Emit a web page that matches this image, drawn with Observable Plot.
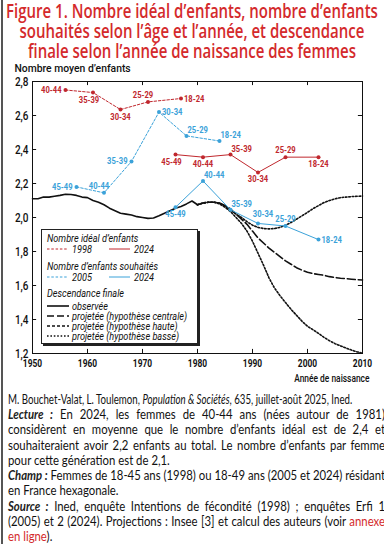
<!DOCTYPE html>
<html><head><meta charset="utf-8">
<script src="https://cdn.jsdelivr.net/npm/d3@7"></script>
<script src="https://cdn.jsdelivr.net/npm/@observablehq/plot@0.6"></script>
<style>
html,body{margin:0;padding:0;background:#fff;}
body{width:384px;height:544px;overflow:hidden;position:relative;}
#edge{position:absolute;left:1px;top:0;width:1.5px;height:544px;background:#555;}
#title{position:absolute;left:0;top:1px;text-align:center;color:#d42a2c;font-family:"Open Sans",sans-serif;font-weight:600;font-size:19.5px;line-height:20px;transform-origin:0 0;}
#title div{white-space:nowrap;}
#title span{display:inline-block;}
#chart{position:absolute;left:0;top:62px;}
#src{position:absolute;left:8px;top:392px;white-space:nowrap;font-family:Lato,"Noto Sans",sans-serif;font-size:12.5px;line-height:16px;color:#111;transform-origin:0 0;}
#caption{position:absolute;left:8px;top:407px;font-family:Lato,"Noto Sans",sans-serif;font-size:12.8px;color:#111;transform-origin:0 0;}
#caption .ln{white-space:nowrap;line-height:15.3px;}
#caption .j{text-align:justify;text-align-last:justify;}
#caption b{font-style:italic;font-weight:700;color:#222;}
#caption .red{color:#d42a2c;}
</style></head>
<body>
<div id="edge"></div>
<div id="title">
<div><span>Figure 1. Nombre idéal d’enfants, nombre d’enfants</span></div>
<div><span>souhaités selon l’âge et l’année, et descendance</span></div>
<div><span>finale selon l’année de naissance des femmes</span></div>
</div>
<div id="chart"></div>
<div id="src">M. Bouchet-Valat, L. Toulemon, <i>Population &amp; Sociétés</i>, 635, juillet-août 2025, Ined.</div>
<div id="caption">
<div class="ln j"><span><b>Lecture :</b> En 2024, les femmes de 40-44 ans (nées autour de 1981)</span></div>
<div class="ln j"><span>considèrent en moyenne que le nombre d’enfants idéal est de 2,4 et</span></div>
<div class="ln j"><span>souhaiteraient avoir 2,2 enfants au total. Le nombre d’enfants par femme</span></div>
<div class="ln"><span>pour cette génération est de 2,1.</span></div>
<div class="ln j"><span><b>Champ :</b> Femmes de 18-45 ans (1998) ou 18-49 ans (2005 et 2024) résidant</span></div>
<div class="ln"><span>en France hexagonale.</span></div>
<div class="ln j"><span><b>Source :</b> Ined, enquête Intentions de fécondité (1998) ; enquêtes Erfi 1</span></div>
<div class="ln j"><span>(2005) et 2 (2024). Projections : Insee [3] et calcul des auteurs (voir <span class="red">annexe</span></span></div>
<div class="ln"><span><span class="red">en ligne</span>).</span></div>
</div>
<script>
// ---------- DATA ----------
const xTicks = [1950, 1960, 1970, 1980, 1990, 2000, 2010];
const yTicks = [1.2, 1.4, 1.6, 1.8, 2.0, 2.2, 2.4, 2.6, 2.8];

const ideal1998Years  = [1956, 1961, 1966, 1971, 1977];
const ideal1998Values = [2.75, 2.735, 2.635, 2.68, 2.70];
const ideal1998Labels = ["40-44", "35-39", "30-34", "25-29", "18-24"];

const wanted2005Years  = [1958, 1963, 1968, 1973, 1978, 1984];
const wanted2005Values = [2.18, 2.145, 2.33, 2.62, 2.48, 2.45];
const wanted2005Labels = ["45-49", "40-44", "35-39", "30-34", "25-29", "18-24"];

const ideal2024Years  = [1976, 1981, 1986, 1991, 1996, 2002];
const ideal2024Values = [2.37, 2.355, 2.37, 2.265, 2.355, 2.355];
const ideal2024Labels = ["45-49", "40-44", "35-39", "30-34", "25-29", "18-24"];

const wanted2024Years  = [1976, 1981, 1986, 1991, 1996, 2002];
const wanted2024Values = [2.06, 2.215, 2.045, 1.965, 1.95, 1.87];
const wanted2024Labels = ["45-49", "40-44", "35-39", "30-34", "25-29", "18-24"];

const observedYears  = [1950,1951,1952,1953,1954,1955,1956,1957,1958,1959,1960,1961,1962,1963,1964,1965,1966,1967,1968,1969,1970,1971,1972,1973,1974,1975,1976,1977,1978,1979,1980];
const observedValues = [2.11,2.11,2.12,2.12,2.125,2.13,2.137,2.135,2.13,2.12,2.117,2.10,2.09,2.075,2.055,2.04,2.025,2.02,2.015,2.005,2.0,1.995,1.997,2.01,2.025,2.04,2.055,2.065,2.08,2.097,2.075];

const projYears = [1980,1981,1982,1983,1984,1985,1986,1987,1988,1989,1990,1991,1992,1993,1994,1995,1996,1997,1998,1999,2000,2001,2002,2003,2004,2005,2006,2007,2008,2009,2010];
const projCentral = [2.075,2.085,2.09,2.09,2.085,2.07,2.05,2.02,1.99,1.96,1.92,1.88,1.85,1.82,1.795,1.77,1.745,1.725,1.705,1.69,1.678,1.67,1.665,1.66,1.652,1.647,1.643,1.64,1.637,1.634,1.632];
const projHigh    = [2.075,2.085,2.09,2.09,2.085,2.065,2.045,2.02,2.0,1.975,1.955,1.942,1.935,1.933,1.935,1.942,1.955,1.97,1.99,2.01,2.03,2.052,2.07,2.088,2.10,2.11,2.117,2.12,2.123,2.125,2.126];
const projLow     = [2.075,2.085,2.09,2.09,2.08,2.06,2.035,2.0,1.965,1.92,1.86,1.79,1.72,1.645,1.585,1.54,1.50,1.46,1.425,1.39,1.36,1.34,1.318,1.295,1.275,1.258,1.245,1.232,1.22,1.21,1.202];

const yAxisTitle = "Nombre moyen d’enfants";
const xAxisTitle = "Année de naissance";
const legendHeads = ["Nombre idéal d’enfants", "Nombre d’enfants souhaités", "Descendance finale"];
const legendYears = ["1998", "2024", "2005", "2024"];
const legendProj  = ["observée", "projetée (hypothèse centrale)", "projetée (hypothèse haute)", "projetée (hypothèse basse)"];

// ---------- STYLE / PLACEMENT ----------
const RED = "#c0272d", BLUE = "#3ba2d9";
const CF = 'Roboto,"Liberation Sans",sans-serif';
const ideal1998Place  = ["l", "bl", "b", "al", "r"];
const wanted2005Place = ["l", "al", "l", "r", "ar", "ar"];
const ideal2024Place  = ["bl", "b", "ar", "b", "a", "b"];
const wanted2024Place = ["b", "ar", "ar", "al2", "a", "r"];
const placeOpts = {
  l:   {textAnchor: "end",    dx: -4, dy: 0},
  r:   {textAnchor: "start",  dx: 3,  dy: 0},
  a:   {textAnchor: "middle", dx: 0,  dy: -7},
  b:   {textAnchor: "middle", dx: 0,  dy: 7},
  al:  {textAnchor: "middle", dx: -5, dy: -7},
  al2: {textAnchor: "middle", dx: 5,  dy: -9},
  ar:  {textAnchor: "start",  dx: 1,  dy: -6},
  bl:  {textAnchor: "middle", dx: -4, dy: 7}
};

function table(years, values, labels, places) {
  return years.map((y, i) => ({year: y, value: values[i], label: labels ? labels[i] : null, place: places ? places[i] : null}));
}
const ideal1998  = table(ideal1998Years, ideal1998Values, ideal1998Labels, ideal1998Place);
const wanted2005 = table(wanted2005Years, wanted2005Values, wanted2005Labels, wanted2005Place);
const ideal2024  = table(ideal2024Years, ideal2024Values, ideal2024Labels, ideal2024Place);
const wanted2024 = table(wanted2024Years, wanted2024Values, wanted2024Labels, wanted2024Place);
const observed   = table(observedYears, observedValues);
const central    = table(projYears, projCentral);
const high       = table(projYears, projHigh);
const low        = table(projYears, projLow);

function labelMarks(data, color) {
  return Object.keys(placeOpts).map(k => Plot.text(data.filter(d => d.place === k), {
    x: "year", y: "value", text: "label", fill: color, fontSize: 9.5, fontWeight: 700, ...placeOpts[k]
  }));
}

const tickLenY = 0.024, tickLenX = 0.75;

const plot = Plot.plot({
  width: 384, height: 326,
  marginTop: 19, marginBottom: 35, marginLeft: 32, marginRight: 22,
  style: {fontFamily: CF, fontSize: "12px", color: "#111", background: "transparent"},
  x: {domain: [1950, 2010]},
  y: {domain: [1.2, 2.8]},
  marks: [
    Plot.axisX(xTicks, {tickSize: 0, tickPadding: 6, tickFormat: d => String(d), label: null, fontWeight: 700, fontSize: 10.5}),
    Plot.axisY(yTicks, {tickSize: 0, tickPadding: 4, tickFormat: d => d.toFixed(1).replace(".", ","), label: null, fontWeight: 500, fontSize: 12.5}),
    Plot.ruleX(xTicks, {x: d => d, y1: 1.2, y2: 1.2 + tickLenY, stroke: "#111"}),
    Plot.ruleX(xTicks, {x: d => d, y1: 2.8, y2: 2.8 - tickLenY, stroke: "#111"}),
    Plot.ruleY(yTicks, {y: d => d, x1: 1950, x2: 1950 + tickLenX, stroke: "#111"}),
    Plot.ruleY(yTicks, {y: d => d, x1: 2010, x2: 2010 - tickLenX, stroke: "#111"}),
    Plot.frame({stroke: "#111", strokeWidth: 1}),
    Plot.line(central, {x: "year", y: "value", stroke: "#111", strokeWidth: 1.6, strokeDasharray: "8,3"}),
    Plot.line(high, {x: "year", y: "value", stroke: "#111", strokeWidth: 1.6, strokeDasharray: "1.6,1.8"}),
    Plot.line(low, {x: "year", y: "value", stroke: "#111", strokeWidth: 1.6, strokeDasharray: "1.6,1.8"}),
    Plot.line(observed, {x: "year", y: "value", stroke: "#111", strokeWidth: 1.6}),
    Plot.line(ideal1998, {x: "year", y: "value", stroke: RED, strokeWidth: 1, strokeDasharray: "2.5,1.8"}),
    Plot.line(ideal2024, {x: "year", y: "value", stroke: RED, strokeWidth: 1}),
    Plot.line(wanted2005, {x: "year", y: "value", stroke: BLUE, strokeWidth: 1, strokeDasharray: "2.5,1.8"}),
    Plot.line(wanted2024, {x: "year", y: "value", stroke: BLUE, strokeWidth: 1}),
    Plot.dot(ideal1998, {x: "year", y: "value", fill: RED, r: 2}),
    Plot.dot(ideal2024, {x: "year", y: "value", fill: RED, r: 2}),
    Plot.dot(wanted2005, {x: "year", y: "value", fill: BLUE, r: 2}),
    Plot.dot(wanted2024, {x: "year", y: "value", fill: BLUE, r: 2}),
    ...labelMarks(ideal1998, RED),
    ...labelMarks(ideal2024, RED),
    ...labelMarks(wanted2005, BLUE),
    ...labelMarks(wanted2024, BLUE),
    Plot.text([yAxisTitle], {className: "ytitle", frameAnchor: "top-left", text: d => d, dx: -18, dy: -13, textAnchor: "start", lineAnchor: "middle", fontSize: 11.5, fontWeight: 500, fill: "#111"}),
    Plot.text([xAxisTitle], {frameAnchor: "bottom-right", text: d => d, dx: 7, dy: 25, textAnchor: "end", lineAnchor: "middle", fontSize: 10.5, fontWeight: 500, fill: "#111"})
  ]
});
document.getElementById("chart").appendChild(plot);

// ---------- LEGEND (inside plot, pixel layout) ----------
const svg = d3.select(plot);
const lg = svg.append("g").attr("class", "legend").attr("font-family", CF).attr("font-style", "italic").attr("font-size", 11)
  .attr("fill", "#111").attr("text-anchor", "start");
lg.append("rect").attr("x", 43).attr("y", 169).attr("width", 157).attr("height", 115).attr("fill", "#222");
lg.append("rect").attr("x", 41.5).attr("y", 167.5).attr("width", 156).attr("height", 114).attr("fill", "#fff").attr("stroke", "#222");
const head = (t, y) => lg.append("text").attr("x", 47).attr("y", y).attr("dy", "0.35em").text(t);
const seg = (x1, x2, y, color, dash, w) => lg.append("line").attr("x1", x1).attr("x2", x2).attr("y1", y).attr("y2", y)
  .attr("stroke", color).attr("stroke-width", w).attr("stroke-dasharray", dash);
const lab = (t, x, y) => lg.append("text").attr("x", x).attr("y", y).attr("dy", "0.35em").text(t);
head(legendHeads[0], 176);
seg(47, 68, 187, RED, "2.5,1.8", 1); lab(legendYears[0], 72, 187.5);
seg(109, 130, 187, RED, null, 1); lab(legendYears[1], 134, 187.5);
head(legendHeads[1], 204);
seg(47, 68, 215, BLUE, "2.5,1.8", 1); lab(legendYears[2], 72, 215.5);
seg(109, 130, 215, BLUE, null, 1); lab(legendYears[3], 134, 215.5);
head(legendHeads[2], 231);
const projDash = [null, "7,3", "3,2", "1.6,1.8"];
legendProj.forEach((t, i) => { const y = 244 + i * 10; seg(47, 69, y, "#111", projDash[i], 1.6); lab(t, 72, y); });

// ---------- fit texts ----------
function squeezeSvgText() {
  plot.querySelectorAll("text").forEach(el => {
    let f = 0.8;
    if (el.closest(".legend")) f = 0.83;
    else if (el.closest(".ytitle")) f = 0.9;
    el.removeAttribute("textLength");
    const L = el.getComputedTextLength();
    if (L > 0) { el.setAttribute("textLength", (L * f).toFixed(2)); el.setAttribute("lengthAdjust", "spacingAndGlyphs"); }
  });
}
function fit() {
  const t = document.getElementById("title");
  const w = t.querySelector("span").offsetWidth;
  t.style.width = w + "px";
  const sx = 372 / w;
  t.style.transform = `translateX(${(384 - w * sx) / 2}px) scaleX(${sx})`;

  const src = document.getElementById("src");
  src.style.transform = `scaleX(${344 / src.offsetWidth})`;

  const cap = document.getElementById("caption");
  cap.style.width = "auto";
  const spans = [...cap.querySelectorAll(".ln > span")];
  const W = Math.max(...spans.map(s => s.offsetWidth));
  cap.style.width = W + "px";
  cap.style.transform = `scaleX(${377 / W})`;
  squeezeSvgText();
}
fit();
document.fonts && document.fonts.ready.then(fit);
</script>
</body></html>
